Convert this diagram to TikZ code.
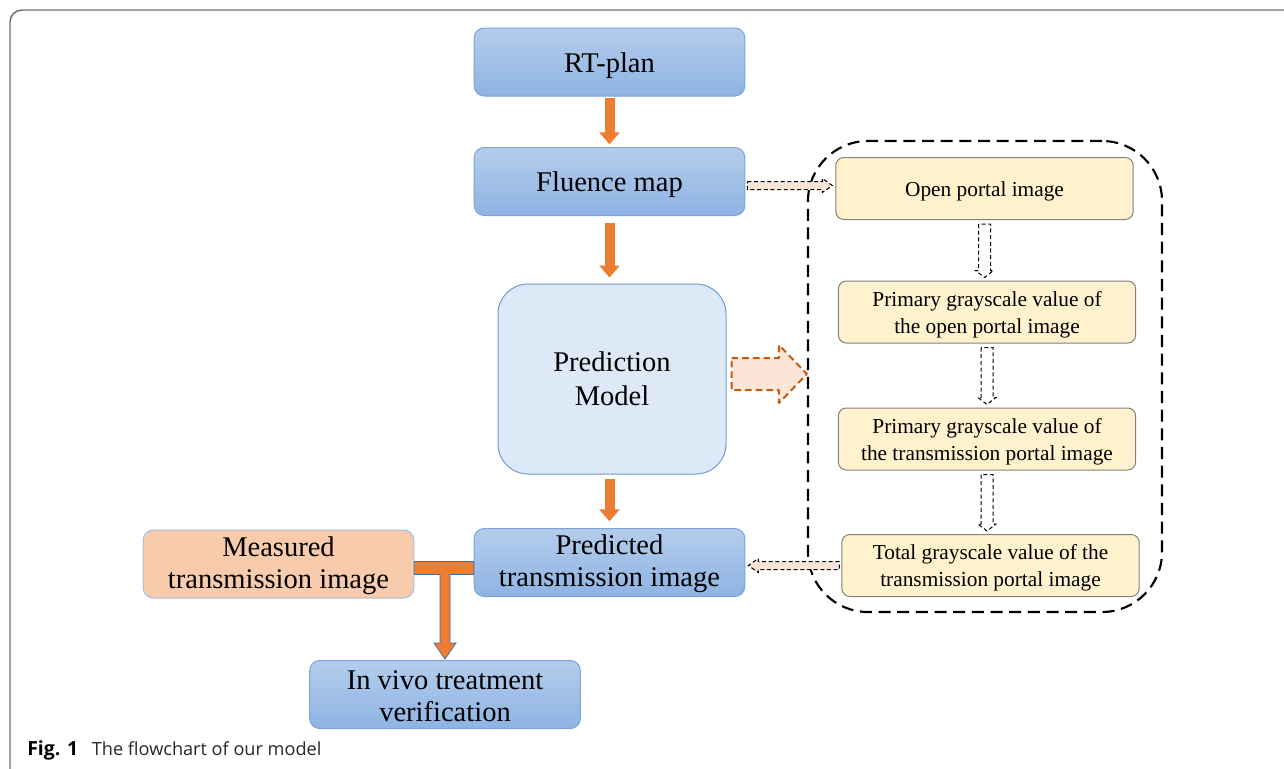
\documentclass[tikz,border=0pt]{standalone}
\usepackage{fontspec}
\setmainfont{Liberation Serif}
\newfontfamily\capfont{Open Sans}
\usetikzlibrary{arrows.meta,calc}

\definecolor{boxtop}{RGB}{180,205,236}
\definecolor{boxbot}{RGB}{142,179,227}
\definecolor{boxline}{RGB}{125,164,218}
\definecolor{modelfill}{RGB}{221,233,246}
\definecolor{modelline}{RGB}{110,155,212}
\definecolor{peach}{RGB}{248,203,173}
\definecolor{paleyellow}{RGB}{255,242,204}
\definecolor{flowor}{RGB}{237,125,49}
\definecolor{teeline}{RGB}{65,113,156}
\definecolor{palepeach}{RGB}{251,229,214}
\definecolor{rust}{RGB}{197,90,17}
\definecolor{framegray}{RGB}{110,110,110}

\tikzset{
  bluebox/.style={draw=boxline, line width=0.75pt, top color=boxtop, bottom color=boxbot,
    rounded corners=7.5pt, minimum width=203pt, minimum height=51pt, inner sep=0pt,
    align=center, font=\fontsize{21.4}{24}\selectfont},
  stepbox/.style={draw=black!50, line width=0.75pt, fill=paleyellow, rounded corners=6pt,
    minimum width=223pt, minimum height=46.5pt, inner sep=0pt, align=center,
    font=\fontsize{16}{20}\selectfont},
  oneline/.style={text height=#1},
  flow/.style={draw=flowor, line width=7.5pt, -{Triangle[width=15pt,length=9pt]}},
  hollow/.style={draw=black, line width=0.75pt, dash pattern=on 3pt off 2pt, fill=white},
  pinkhollow/.style={hollow, fill=palepeach},
}

% downward hollow arrow between two stacked boxes
\newcommand{\hollowdown}[2]{%
  \draw[hollow] ($(#1.south)+(-6,4)$) -- ($(#1.south |- #2.north)+(-6,-10)$)
    -- ($(#1.south |- #2.north)+(-9,-10)$) -- ($(#1.south |- #2.north)+(0,-3)$)
    -- ($(#1.south |- #2.north)+(9,-10)$) -- ($(#1.south |- #2.north)+(6,-10)$)
    -- ($(#1.south)+(6,4)$) -- cycle;}

\begin{document}
\begin{tikzpicture}[x=0.75pt,y=0.75pt,yscale=-1,xscale=1]
\useasboundingbox (0,0) rectangle (1284,768);

% frame
\begin{scope}
\clip (0,0) rectangle (1284,768);
\draw [draw=framegray, line width=1.1pt, rounded corners=9pt] (10,10) rectangle (1320,800);
\end{scope}

% Left column
\node [bluebox, oneline=20pt] (rt) at (609.5,62) {RT-plan};
\node [bluebox, oneline=20pt] (fluence) at (609.5,181.5) {Fluence map};
\node [draw=modelline, line width=0.75pt, fill=modelfill, rounded corners=22.5pt,
  minimum width=171pt, minimum height=142.5pt, align=center,
  font=\fontsize{21.4}{25.5}\selectfont] (model) at (612,379) {Prediction\\Model};
\node [bluebox, oneline=41pt] (predicted) at (609.5,562.5) {Predicted\\transmission image};
\node [bluebox, oneline=41pt, draw=boxline!70, top color=peach, bottom color=peach] (measured) at (278.5,564) {Measured\\transmission image};
\node [bluebox, oneline=41pt] (invivo) at (445,694.5) {In vivo treatment\\verification};

% Right panel
\node [draw=black, line width=1.6pt, dash pattern=on 9pt off 5pt, rounded corners=45pt,
  minimum width=265.5pt, minimum height=353.25pt] (panel) at (985,376.5) {};
\node [stepbox, oneline=15pt] (open) at (984.5,188.5) {Open portal image};
\node [stepbox, oneline=35pt] (prim1) at (987,312) {Primary grayscale value of\\the open portal image};
\node [stepbox, oneline=35pt] (prim2) at (987,439) {Primary grayscale value of\\the transmission portal image};
\node [stepbox, oneline=35pt] (total) at (990.5,565.5) {Total grayscale value of the\\transmission portal image};

% orange arrows
\draw [flow, shorten <=1pt, shorten >=2pt] (rt) -- (fluence);
\draw [flow, shorten <=5pt, shorten >=4.5pt] (fluence.south) -- (fluence.south |- model.north);
\draw [flow, shorten <=3pt, shorten >=5pt] (model.south -| predicted.north) -- (predicted.north);

% T junction
\coordinate (tee) at (invivo.north |- measured.east);
\draw [fill=flowor, draw=teeline, line width=0.6pt]
  ($(measured.east)+(0,-2.5)$) -- ($(predicted.west |- measured.east)+(0,-2.5)$)
  -- ($(predicted.west |- measured.east)+(0,10.5)$) -- ($(tee)+(5,10.5)$)
  -- ($(invivo.north)+(5,-17)$) -- ($(invivo.north)+(11,-17)$) -- ($(invivo.north)+(0,-1)$)
  -- ($(invivo.north)+(-11,-17)$) -- ($(invivo.north)+(-5,-17)$) -- ($(tee)+(-5,10.5)$)
  -- ($(measured.east)+(0,10.5)$) -- cycle;

% hollow arrows inside panel
\hollowdown{open}{prim1}
\hollowdown{prim1}{prim2}
\hollowdown{prim2}{total}

% fluence map to open portal image
\coordinate (fo1) at ($(fluence.east)+(2,4)$);
\coordinate (fo2) at ($(open.west |- fo1)+(-3,0)$);
\draw [pinkhollow] ($(fo1)+(0,-4)$) -- ($(fo2)+(-10,-4)$) -- ($(fo2)+(-10,-7)$) -- (fo2)
  -- ($(fo2)+(-10,7)$) -- ($(fo2)+(-10,4)$) -- ($(fo1)+(0,4)$) -- cycle;

% total grayscale back to predicted image
\coordinate (tp1) at ($(total.west)+(-2,0)$);
\coordinate (tp2) at ($(predicted.east |- tp1)+(3,0)$);
\draw [pinkhollow] ($(tp1)+(0,-4)$) -- ($(tp2)+(10,-4)$) -- ($(tp2)+(10,-7)$) -- (tp2)
  -- ($(tp2)+(10,7)$) -- ($(tp2)+(10,4)$) -- ($(tp1)+(0,4)$) -- cycle;

% big arrow model to panel
\coordinate (ba1) at ($(model.east)+(5,-5)$);
\coordinate (ba2) at (panel.west |- ba1);
\draw [draw=rust, line width=1.5pt, dash pattern=on 5pt off 3pt, fill=palepeach, line join=round]
  ($(ba1)+(0,-16)$) -- ($(ba2)+(-28,-16)$) -- ($(ba2)+(-28,-29)$) -- (ba2)
  -- ($(ba2)+(-28,29)$) -- ($(ba2)+(-28,16)$) -- ($(ba1)+(0,16)$) -- cycle;

% caption
\node [anchor=base west, inner sep=0pt, font=\capfont\fontsize{13.6}{16}\selectfont] (caption)
  at (27,755) {{\fontsize{14.6}{16}\selectfont\bfseries Fig. 1}\hspace{0.75em}{\color{black!85}The flowchart of our model}};

\end{tikzpicture}
\end{document}
